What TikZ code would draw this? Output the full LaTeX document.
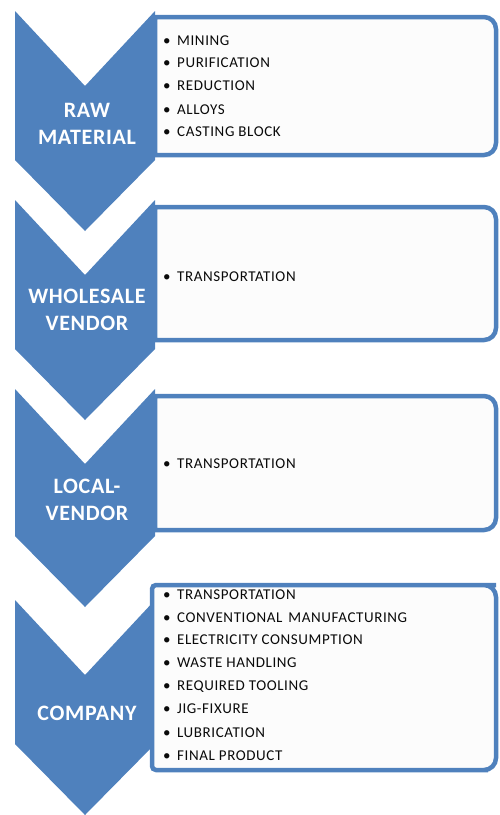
\documentclass[tikz,border=0pt]{standalone}
\usepackage{fontspec}
\setmainfont{Carlito}
\newfontfamily\itemfont[LetterSpace=4]{Carlito}
\newfontfamily\labfont[LetterSpace=3]{Carlito}
\definecolor{chevblue}{RGB}{79,129,189}
\definecolor{boxfill}{RGB}{252,252,252}
\definecolor{itemtxt}{RGB}{10,10,10}
\tikzset{
  chev/.style={fill=chevblue},
  infobox/.style={draw=chevblue, line width=4.5pt, fill=boxfill},
  item/.style={anchor=west, inner sep=0pt, text height=9.5pt, text depth=0pt,
     font=\itemfont\fontsize{15}{16}\selectfont, text=itemtxt},
  lab/.style={align=center, inner sep=0pt, text=white,
     font=\labfont\bfseries\fontsize{22}{27}\selectfont}
}
\newcommand{\chevshape}[2]{%
  \fill[chev] (15,-#1) -- (85,-#1-75) -- (155,-#1) -- (155,-#2) -- (85,-#2-71) -- (15,-#2) -- cycle;}
\newcommand{\bul}{\textbullet\hspace{6.5pt}}
\begin{document}
\begin{tikzpicture}[x=1pt,y=1pt]
\useasboundingbox (0,0) rectangle (499,-815);
% chevrons
\chevshape{11}{160}
\chevshape{200}{349}
\chevshape{389}{536}
\chevshape{600}{744}
% boxes
\draw[infobox] (155,-17) [rounded corners=12pt] -- (496,-17) -- (496,-155) [sharp corners] -- (155,-155) -- cycle;
\draw[infobox] (155,-207) [rounded corners=12pt] -- (496,-207) -- (496,-340) [sharp corners] -- (155,-340) -- cycle;
\draw[infobox] (155,-396) [rounded corners=12pt] -- (496,-396) -- (496,-530) [sharp corners] -- (155,-530) -- cycle;
\draw[infobox, rounded corners=4pt] (152,-585) -- (152,-770) -- (484,-770) [rounded corners=12pt] -- (496,-770) -- (496,-585) -- (484,-585) [rounded corners=4pt] -- cycle;
% labels
\node[lab] (l1) at (87,-124) {RAW\\MATERIAL};
\node[lab] (l2) at (87,-310) {WHOLESALE\\VENDOR};
\node[lab] (l3) at (87,-500) {LOCAL-\\VENDOR};
\node[lab] (l4) at (87,-713) {COMPANY};
% items
\node[item] (a1) at (163,-41) {\bul MINING};
\node[item] (a2) at (163,-63) {\bul PURIFICATION};
\node[item] (a3) at (163,-86) {\bul REDUCTION};
\node[item] (a4) at (163,-110) {\bul ALLOYS};
\node[item] (a5) at (163,-132) {\bul CASTING BLOCK};
\node[item] (b1) at (163,-277) {\bul TRANSPORTATION};
\node[item] (c1) at (163,-464) {\bul TRANSPORTATION};
\node[item] (d1) at (163,-595) {\bul TRANSPORTATION};
\node[item] (d2) at (163,-618) {\bul CONVENTIONAL\hspace{6pt}MANUFACTURING};
\node[item] (d3) at (163,-640) {\bul ELECTRICITY CONSUMPTION};
\node[item] (d4) at (163,-663) {\bul WASTE HANDLING};
\node[item] (d5) at (163,-686) {\bul REQUIRED TOOLING};
\node[item] (d6) at (163,-709) {\bul JIG-FIXURE};
\node[item] (d7) at (163,-733) {\bul LUBRICATION};
\node[item] (d8) at (163,-756) {\bul FINAL PRODUCT};
\end{tikzpicture}
\end{document}
